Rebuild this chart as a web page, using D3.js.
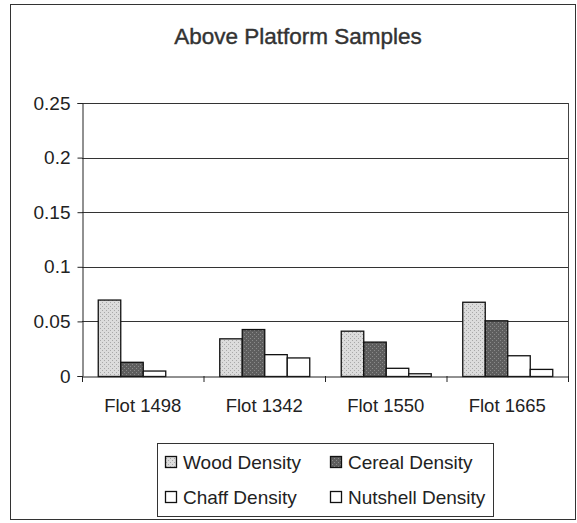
<!DOCTYPE html>
<html>
<head>
<meta charset="utf-8">
<script src="https://cdn.jsdelivr.net/npm/d3@7"></script>
<style>
  body { margin: 0; background: #fff; }
  text { font-family: "Liberation Sans", Arial, sans-serif; fill: #222; }
</style>
</head>
<body>
<div id="chart"></div>
<script>
// data
const categories = ["Flot 1498", "Flot 1342", "Flot 1550", "Flot 1665"]
const seriesNames = ["Wood Density", "Cereal Density", "Chaff Density", "Nutshell Density"]
const wood = [0.070, 0.0345, 0.0415, 0.068]
const cereal = [0.013, 0.043, 0.0315, 0.051]
const chaff = [0.005, 0.020, 0.0075, 0.019]
const nutshell = [0.0, 0.017, 0.0025, 0.0065]
const yTicks = [0, 0.05, 0.1, 0.15, 0.2, 0.25]

const series = [wood, cereal, chaff, nutshell]
const fills = ["url(#woodPat)", "url(#cerealPat)", "#fff", "#fff"]

const W = 577, H = 523
const svg = d3.select("#chart").append("svg")
  .attr("width", W).attr("height", H)

// speckled fills like the scanned hatches
const defs = svg.append("defs")
let pattern = function (id, base, dot) {
  let p = defs.append("pattern").attr("id", id)
    .attr("width", 4).attr("height", 4)
    .attr("patternUnits", "userSpaceOnUse")
  p.append("rect").attr("width", 4).attr("height", 4).attr("fill", base)
  p.append("rect").attr("x", 0).attr("y", 0).attr("width", 1).attr("height", 1).attr("fill", dot)
  p.append("rect").attr("x", 2).attr("y", 2).attr("width", 1).attr("height", 1).attr("fill", dot)
}
pattern("woodPat", "#dcdcdc", "#a8a8a8")
pattern("cerealPat", "#5e5e5e", "#8a8a8a")

// outer frame
svg.append("rect").attr("x", 10.5).attr("y", 4.5).attr("width", 565).attr("height", 515)
  .attr("fill", "none").attr("stroke", "#333").attr("stroke-width", 1)

svg.append("text").attr("x", 298).attr("y", 44)
  .attr("text-anchor", "middle").attr("font-size", 22.5)
  .style("fill", "#333").style("stroke", "#333").style("stroke-width", 0.4)
  .text("Above Platform Samples")

const plotLeft = 82, plotRight = 568, plotTop = 103, plotBottom = 376

const x = d3.scaleBand().domain(categories).range([plotLeft, plotRight]).paddingInner(0).paddingOuter(0)
const inner = d3.scaleBand().domain(d3.range(seriesNames.length))
  .range([0, x.bandwidth()]).paddingInner(0).paddingOuter(0.7)
const y = d3.scaleLinear().domain([0, 0.25]).range([plotBottom, plotTop])

// gridlines
svg.append("g").selectAll("line").data(yTicks.slice(1)).join("line")
  .attr("x1", plotLeft).attr("x2", plotRight)
  .attr("y1", d => Math.round(y(d)) + 0.5).attr("y2", d => Math.round(y(d)) + 0.5)
  .attr("stroke", "#333").attr("stroke-width", 1)

// right border of plot area
svg.append("line").attr("x1", plotRight + 0.5).attr("x2", plotRight + 0.5)
  .attr("y1", plotTop).attr("y2", plotBottom).attr("stroke", "#444")

// bars
series.forEach(function (vals, s) {
  svg.append("g").selectAll("rect").data(vals).join("rect")
    .attr("x", (d, i) => x(categories[i]) + inner(s) + 0.5)
    .attr("y", d => y(d) + 0.5)
    .attr("width", inner.bandwidth())
    .attr("height", d => Math.max(0, plotBottom - y(d)))
    .attr("fill", fills[s])
    .attr("stroke", "#111").attr("stroke-width", 1.3)
})

// axes
const yAxis = svg.append("g").attr("transform", `translate(${plotLeft + 0.5},0)`)
  .call(d3.axisLeft(y).tickValues(yTicks).tickSize(5).tickPadding(7)
    .tickFormat(d => d === 0 ? "0" : String(d)))
yAxis.selectAll("text").attr("font-size", 19).style("font-family", "'Liberation Sans', Arial, sans-serif")
yAxis.selectAll("line, path").attr("stroke", "#222")

const xAxis = svg.append("g").attr("transform", `translate(0,${plotBottom + 0.5})`)
  .call(d3.axisBottom(x).tickSize(0).tickPadding(22))
xAxis.select("path").attr("stroke", "#222")
xAxis.selectAll("text").attr("font-size", 18.5).style("font-family", "'Liberation Sans', Arial, sans-serif")
// category separator ticks
svg.append("g").selectAll("line").data(d3.range(categories.length + 1)).join("line")
  .attr("x1", i => plotLeft + i * x.bandwidth() + 0.5).attr("x2", i => plotLeft + i * x.bandwidth() + 0.5)
  .attr("y1", plotBottom).attr("y2", plotBottom + 6).attr("stroke", "#222")

// legend
const lg = svg.append("g")
lg.append("rect").attr("x", 157.5).attr("y", 443.5).attr("width", 336).attr("height", 73)
  .attr("fill", "#fff").attr("stroke", "#333")
const legendPos = [[165, 462], [330, 462], [165, 497], [330, 497]]
seriesNames.forEach(function (name, s) {
  let p = legendPos[s]
  lg.append("rect").attr("x", p[0] + 0.5).attr("y", p[1] - 5.5).attr("width", 11).attr("height", 11)
    .attr("fill", fills[s]).attr("stroke", "#111").attr("stroke-width", 1.3)
  lg.append("text").attr("x", p[0] + 18).attr("y", p[1] + 6.5)
    .attr("font-size", 19).text(name)
})
</script>
</body>
</html>
